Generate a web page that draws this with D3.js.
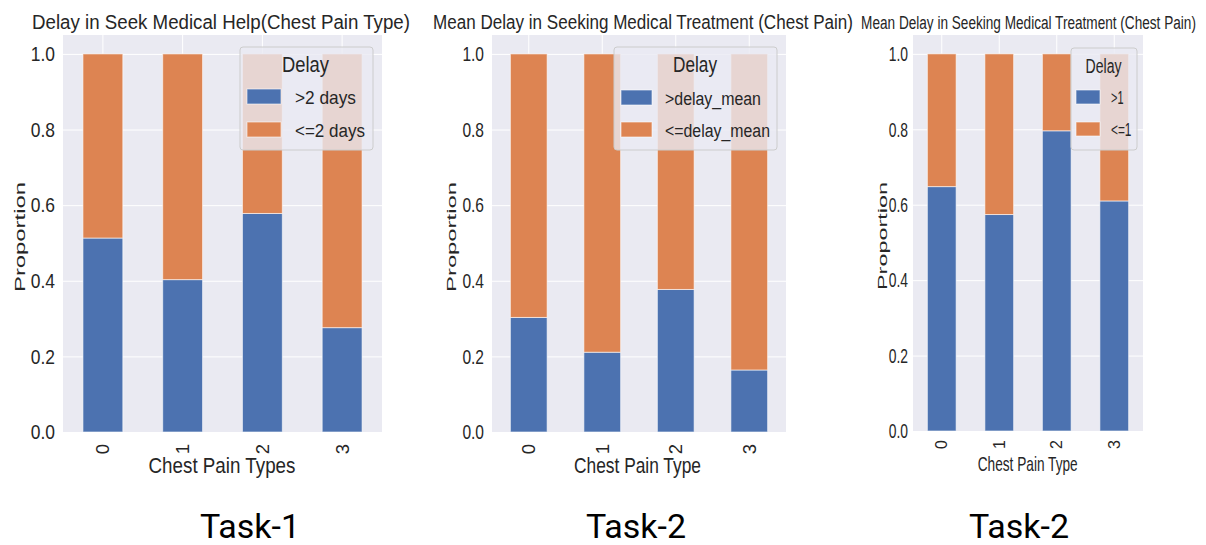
<!DOCTYPE html>
<html>
<head>
<meta charset="utf-8">
<script src="https://cdn.jsdelivr.net/npm/d3@7"></script>
<style>
  html, body { margin: 0; padding: 0; background: #ffffff; }
  svg { display: block; }
  text { font-family: "Liberation Sans", Arial, sans-serif; fill: #262626; }
</style>
</head>
<body>
<svg id="chart" width="1206" height="545"></svg>
<script>
// ---------------- data ----------------
const categories = ["0", "1", "2", "3"];
const yTickValues = [0, 0.2, 0.4, 0.6, 0.8, 1.0];
const yTickLabels = ["0.0", "0.2", "0.4", "0.6", "0.8", "1.0"];

const task1Names = [">2 days", "<=2 days"];
const task1Over  = [0.513, 0.403, 0.578, 0.276];
const task1Under = [0.487, 0.597, 0.422, 0.724];

const task2Names = [">delay_mean", "<=delay_mean"];
const task2Over  = [0.303, 0.211, 0.377, 0.164];
const task2Under = [0.697, 0.789, 0.623, 0.836];

const task3Names = [">1", "<=1"];
const task3Over  = [0.648, 0.574, 0.796, 0.610];
const task3Under = [0.352, 0.426, 0.204, 0.390];

const titles = [
  "Delay in Seek Medical Help(Chest Pain Type)",
  "Mean Delay in Seeking Medical Treatment (Chest Pain)",
  "Mean Delay in Seeking Medical Treatment (Chest Pain)"
];
const xLabels = ["Chest Pain Types", "Chest Pain Type", "Chest Pain Type"];
const yLabel = "Proportion";
const legendTitle = "Delay";
const taskLabels = ["Task-1", "Task-2", "Task-2"];

const colors = ["#4c72b0", "#dd8452"];

// ---------------- layout (positions only) ----------------
const panels = [
  { over: task1Over, under: task1Under, names: task1Names,
    left: 63, right: 382, top: 35, bottom: 432,
    title: { cx: 221, y: 29, size: 20, len: 378 },
    ytick: { size: 21, factor: 0.83, pad: 8 },
    ylab: { cx: 20, cy: 237, size: 20, len: 110, sy: 0.75 },
    xtick: { size: 18.5, top: 444 },
    xlab: { cx: 222, y: 473, size: 22, len: 147 },
    legend: { x0: 240, x1: 373, y0: 47, y1: 150, titleCx: 305.5, titleY: 72, titleSize: 21.5, titleLen: 47,
              px0: 247, px1: 281, rows: [89, 122], ph: 15, lx: 295, labSize: 19, labLens: [61, 70] },
    task: { cx: 250, y: 538 } },
  { over: task2Over, under: task2Under, names: task2Names,
    left: 492, right: 786, top: 35, bottom: 432,
    title: { cx: 643, y: 29, size: 21, len: 420 },
    ytick: { size: 21, factor: 0.74, pad: 8 },
    ylab: { cx: 452, cy: 237, size: 20, len: 110, sy: 0.66 },
    xtick: { size: 18.5, top: 444 },
    xlab: { cx: 637.5, y: 473, size: 22, len: 127 },
    legend: { x0: 614, x1: 777, y0: 47, y1: 150, titleCx: 695, titleY: 72, titleSize: 21.5, titleLen: 44,
              px0: 621, px1: 652, rows: [90, 122], ph: 15, lx: 665, labSize: 19, labLens: [96, 105] },
    task: { cx: 636, y: 538 } },
  { over: task3Over, under: task3Under, names: task3Names,
    left: 913, right: 1143, top: 35, bottom: 431,
    title: { cx: 1028.5, y: 29, size: 19, len: 335 },
    ytick: { size: 21, factor: 0.66, pad: 5 },
    ylab: { cx: 882, cy: 236, size: 20, len: 108, sy: 0.66 },
    xtick: { size: 16, top: 440 },
    xlab: { cx: 1027.7, y: 471, size: 20.5, len: 100 },
    legend: { x0: 1071, x1: 1137, y0: 48, y1: 150, titleCx: 1103.5, titleY: 73, titleSize: 21, titleLen: 36,
              px0: 1076, px1: 1100, rows: [90, 122], ph: 14, lx: 1111, labSize: 18.5, labLens: [12.5, 20.5] },
    task: { cx: 1019, y: 538 } }
];

const svg = d3.select("#chart");

// text helper: optional exact length via a horizontal scale transform
function addText(g, opts) {
  const t = g.append("text")
    .attr("x", 0)
    .attr("y", 0)
    .attr("font-size", opts.size)
    .attr("text-anchor", opts.anchor || "start")
    .text(opts.text);
  if (opts.baseline) t.attr("dominant-baseline", opts.baseline);
  if (opts.family) t.style("font-family", opts.family);
  if (opts.fill) t.style("fill", opts.fill);
  let sx = 1;
  if (opts.len) {
    const w = t.node().getComputedTextLength();
    if (w > 0) sx = opts.len / w;
  }
  const sy = opts.sy || 1;
  let tr = `translate(${opts.x || 0},${opts.y || 0})`;
  if (opts.rotate) tr += ` rotate(${opts.rotate})`;
  tr += ` scale(${sx},${sy})`;
  t.attr("transform", tr);
  return t;
}

panels.forEach((p, i) => {
  const g = svg.append("g");
  const x = d3.scaleBand().domain(categories).range([p.left, p.right])
    .paddingInner(0.5).paddingOuter(0.25);
  const y = d3.scaleLinear().domain([0, 1.05]).range([p.bottom, p.top]);

  // background
  g.append("rect")
    .attr("x", p.left).attr("y", p.top)
    .attr("width", p.right - p.left).attr("height", p.bottom - p.top)
    .attr("fill", "#eaeaf2");

  // gridlines
  const gy = g.append("g").attr("transform", `translate(${p.left},0)`)
    .call(d3.axisLeft(y).tickValues(yTickValues).tickSize(-(p.right - p.left)).tickFormat(""));
  gy.select(".domain").remove();
  gy.selectAll("line").attr("stroke", "#ffffff").attr("stroke-width", 1);

  const gx = g.append("g").attr("transform", `translate(0,${p.bottom})`)
    .call(d3.axisBottom(x).tickSize(-(p.bottom - p.top)).tickFormat(""));
  gx.select(".domain").remove();
  gx.selectAll("line").attr("stroke", "#ffffff").attr("stroke-width", 1);

  // stacked bars
  const rows = categories.map((c, k) => ({ cat: c, over: p.over[k], under: p.under[k] }));
  const stacked = d3.stack().keys(["over", "under"])(rows);
  stacked.forEach((layer, li) => {
    g.append("g").selectAll("rect").data(layer).join("rect")
      .attr("x", d => x(d.data.cat))
      .attr("width", x.bandwidth())
      .attr("y", d => y(d[1]))
      .attr("height", d => y(d[0]) - y(d[1]))
      .attr("fill", colors[li])
      .attr("stroke", "#ffffff")
      .attr("stroke-opacity", 0.6)
      .attr("stroke-width", 1);
  });

  // y tick labels
  const yAxis = g.append("g").attr("transform", `translate(${p.left},0)`)
    .call(d3.axisLeft(y).tickValues(yTickValues).tickSize(0).tickPadding(p.ytick.pad)
      .tickFormat((d, k) => yTickLabels[k]));
  yAxis.select(".domain").remove();
  yAxis.selectAll("text")
    .attr("font-size", p.ytick.size)
    .style("font-family", '"Liberation Sans", Arial, sans-serif')
    .style("fill", "#262626")
    .each(function () {
      const w = this.getComputedTextLength();
      d3.select(this).attr("textLength", w * p.ytick.factor).attr("lengthAdjust", "spacingAndGlyphs");
    });

  // x tick labels (rotated)
  const xAxis = g.append("g").attr("transform", `translate(0,${p.bottom})`)
    .call(d3.axisBottom(x).tickSize(0).tickFormat(d => d));
  xAxis.select(".domain").remove();
  xAxis.selectAll("text")
    .attr("font-size", p.xtick.size)
    .style("font-family", '"Liberation Sans", Arial, sans-serif')
    .style("fill", "#262626")
    .attr("x", 0).attr("y", 0).attr("dy", null)
    .attr("text-anchor", "end")
    .attr("dominant-baseline", "central")
    .attr("transform", `translate(0,${p.xtick.top - p.bottom}) rotate(-90)`);

  // title
  addText(g, { x: p.title.cx, y: p.title.y, text: titles[i], size: p.title.size, anchor: "middle", len: p.title.len });

  // y label
  addText(g, { x: p.ylab.cx, y: p.ylab.cy, rotate: -90, sy: p.ylab.sy, text: yLabel, size: p.ylab.size,
    anchor: "middle", baseline: "central", len: p.ylab.len });

  // x label
  addText(g, { x: p.xlab.cx, y: p.xlab.y, text: xLabels[i], size: p.xlab.size, anchor: "middle", len: p.xlab.len });

  // legend
  const L = p.legend;
  const lg = g.append("g");
  lg.append("rect")
    .attr("x", L.x0).attr("y", L.y0)
    .attr("width", L.x1 - L.x0).attr("height", L.y1 - L.y0)
    .attr("rx", 3).attr("ry", 3)
    .attr("fill", "#eaeaf2").attr("fill-opacity", 0.8)
    .attr("stroke", "#cccccc").attr("stroke-width", 1);
  addText(lg, { x: L.titleCx, y: L.titleY, text: legendTitle, size: L.titleSize, anchor: "middle", len: L.titleLen });
  p.names.forEach((nm, k) => {
    lg.append("rect")
      .attr("x", L.px0).attr("y", L.rows[k])
      .attr("width", L.px1 - L.px0).attr("height", L.ph)
      .attr("fill", colors[k])
      .attr("stroke", "#ffffff").attr("stroke-opacity", 0.6).attr("stroke-width", 1);
    addText(lg, { x: L.lx, y: L.rows[k] + L.ph, text: nm, size: L.labSize, len: L.labLens[k] });
  });

  // task label
  addText(svg, { x: p.task.cx, y: p.task.y, text: taskLabels[i], size: 34, anchor: "middle",
    family: "Roboto, sans-serif", fill: "#000000" });
});
</script>
</body>
</html>
